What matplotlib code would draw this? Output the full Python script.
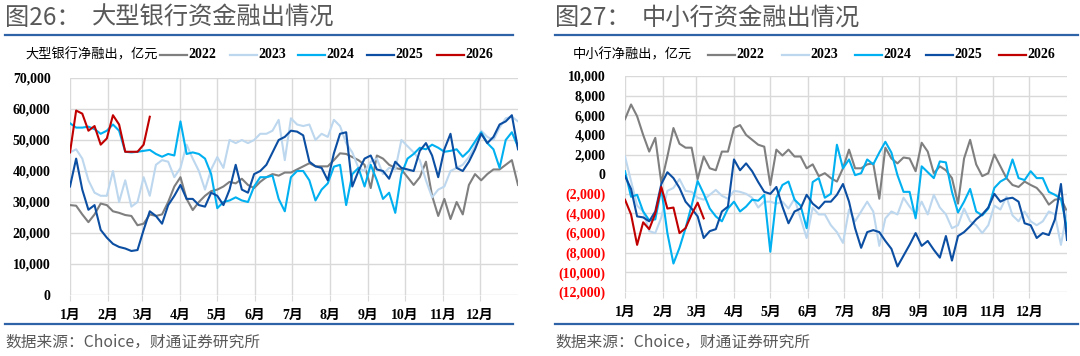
import matplotlib
matplotlib.use("Agg")
import matplotlib.pyplot as plt
from matplotlib.lines import Line2D
import numpy as np
import pandas as pd

W, H = 1080, 356
STEP = 5  # days between samples

YEARS = ["2022", "2023", "2024", "2025", "2026"]
COLORS = ["#7F7F7F", "#BDD7EE", "#00B0F0", "#0B4EA2", "#C00000"]
MONTH_LABELS = [f"{m}月" for m in range(1, 13)]

# 大型银行净融出 (亿元), sampled every 5 days
LARGE_2022 = [29, 28.8, 26, 23.5, 26, 29.5, 29, 27, 26.5, 25.8,
              25.5, 22.5, 23, 26, 25.5, 26, 30, 35, 38, 31,
              27.4, 30, 32, 33.5, 34, 35, 36.5, 36, 37.5, 35.5,
              34.5, 36.5, 38, 39, 38.5, 39.5, 39.5, 40.5, 41.5, 42.5,
              41.5, 41.5, 41.5, 43.5, 45.7, 45.5, 44.5, 43.5, 42, 34.5,
              45, 44, 42, 41, 40.5, 38, 35.5, 38, 43, 32,
              25.5, 31, 24.5, 30, 26, 35.5, 39, 37, 39, 40.5,
              40.5, 42, 43.5, 35.5]
LARGE_2023 = [46, 47, 44, 37, 33, 32, 32, 40, 30, 37,
              28.5, 30, 38, 32, 42, 43.5, 43, 38, 41, 48.5,
              44, 40, 34, 40.5, 44.5, 41, 50, 49, 50, 49,
              50, 52, 52, 53, 56.5, 43.5, 57, 55, 54.5, 55,
              50, 52, 51, 56.5, 54.5, 49, 46, 41, 40, 43,
              44, 39, 41, 40.5, 50, 48, 46, 43.5, 37, 31.5,
              34, 35, 40, 41, 42, 44.5, 48, 53, 51, 50,
              54, 57, 57.5, 56]
LARGE_2024 = [55.4, 54, 54, 54.3, 53.5, 52, 53, 55, 53, 46.2,
              46, 46.2, 46.5, 46.8, 45.5, 44.6, 45.5, 45, 56, 45.5,
              46, 45.5, 44, 39, 28, 30, 30.5, 31.5, 30.5, 30,
              35, 38, 38, 38.5, 31, 27, 38, 40, 40, 37,
              30.5, 34, 36, 41.4, 42, 29, 39, 41, 35, 42,
              37, 31, 33, 26.5, 39, 44, 45.5, 47.5, 47, 48.5,
              47.5, 46.2, 46.5, 47, 44.6, 46.5, 49.5, 52.5, 49, 47,
              41, 50, 52.5, 47.8]
LARGE_2025 = [35, 44, 34, 27.5, 29, 21, 18.5, 16.5, 15.5, 15,
              14.2, 14.5, 21, 27, 25.5, 23, 29, 32, 35.5, 31,
              31, 29, 28.5, 33, 32, 29, 34, 42, 34, 33,
              39, 40, 42, 46, 50, 51, 53, 52.7, 51.5, 43,
              41.5, 41, 37, 45.7, 52, 52.5, 35, 40, 44, 45,
              40.5, 40, 37.5, 43, 41, 40.5, 40, 46.5, 49, 45,
              38, 47, 52, 41, 40, 43, 47, 52, 49, 51,
              55, 56, 58, 47]
LARGE_2026 = [46, 59.5, 58.5, 53, 54.5, 48.5, 50.5, 58, 55, 46.2,
              46.2, 46.2, 48.5, 57.5]

# 中小行净融出 (亿元), sampled every 5 days
SMALL_2022 = [5.6, 7.1, 5.9, 4.0, 2.3, 3.7, -0.9, 1.8, 4.7, 3.1,
              2.7, 2.7, -0.5, 1.8, 0.6, 0.4, 2.3, 2.3, 4.7, 5.0,
              4.0, 3.5, 3.0, 2.8, -1.1, 2.5, 1.9, 2.5, 1.8, 1.8,
              0.6, 1.0, -0.2, 0.1, -0.4, -0.75, 0.6, 2.5, 0.6, 0.6,
              1.0, 1.1, -2.5, 2.7, 1.6, 1.1, 1.7, 1.6, 0.3, 3.2,
              2.3, 0.1, 0.8, 0.4, -0.4, -3.0, 1.6, 3.5, 1.0, -0.2,
              0.1, 2.0, 0.8, -0.4, -1.1, -1.3, -0.75, -1.1, -1.4, -2.1,
              -3.1, -2.6, -2.5, -3.8]
SMALL_2023 = [1.8, -0.7, -3.2, -3.8, -5.8, -6.0, -4.4, -1.7, -1.4, -0.5,
              -1.7, -1.8, -2.4, -2.6, -2.1, -1.6, -2.2, -2.5, -1.7, -1.8,
              -2.0, -2.4, -3.4, -2.8, -2.8, -3.0, -2.8, -3.5, -2.5, -4.5,
              -6.5, -3.4, -4.1, -4.1, -5.2, -5.9, -7.0, -3.6, -4.8, -3.8,
              -2.8, -3.8, -7.3, -4.5, -3.8, -4.1, -2.4, -3.3, -4.1, -2.8,
              -4.1, -2.1, -3.4, -4.1, -5.5, -5.2, -3.5, -4.8, -5.2, -6.0,
              -5.2, -3.2, -3.6, -2.3, -4.2, -4.8, -3.8, -4.8, -5.2, -4.8,
              -3.8, -4.1, -7.2, -3.8]
SMALL_2024 = [0.3, -2.3, -2.1, -3.8, -4.7, -4.6, -1.5, -6.0, -9.1, -7.5,
              -5.5, -3.2, -0.7, -2.0, -3.5, -4.3, -4.8, -3.5, -2.8, -3.8,
              -3.3, -2.6, -2.7, -2.1, -7.9, -2.4, -1.1, -0.75, -2.6, -3.2,
              -5.5, -0.8, -0.4, -2.4, -2.0, 3.0, 0.6, 1.5, -0.1, 0.1,
              1.5, 1.0, 2.2, 3.3, 2.2, -0.1, -1.8, -1.8, -4.5, 0.8,
              0.2, -0.4, 1.3, 1.2, -1.8, -3.9, -2.8, -1.5, -3.8, -4.2,
              -3.5, -1.4, -0.75, -0.4, 1.5, -0.4, -0.6, 0.3, -0.4, -0.4,
              -1.8, -2.1, -2.5, -5.5]
SMALL_2025 = [-0.2, -1.5, -4.3, -4.4, -4.8, -3.8, -1.0, 0.2, -0.4, -1.4,
              -2.8, -3.5, -4.3, -6.5, -5.8, -5.6, -3.8, -3.3, 1.5, 0.4,
              1.1, 0.3, -0.8, -1.8, -2.0, -1.3, -3.3, -5.0, -3.8, -3.5,
              -2.1, -3.0, -3.5, -2.8, -2.8, -2.1, -1.0, -2.8, -5.5, -7.5,
              -5.9, -5.7, -5.9, -6.8, -7.6, -9.4, -8.3, -7.2, -6.0, -7.3,
              -6.8, -7.7, -8.5, -6.3, -8.8, -6.3, -5.9, -5.3, -4.6, -4.1,
              -3.4, -2.0, -2.8, -2.5, -2.4, -2.8, -5.0, -5.2, -6.5, -6.0,
              -6.2, -4.6, -1.0, -6.7]
SMALL_2026 = [-2.6, -4.1, -7.2, -4.9, -5.6, -4.0, -1.3, -3.5, -3.4, -6.0,
              -5.5, -4.1, -2.9, -4.5]

CJK = ["Noto Sans CJK SC", "DejaVu Sans"]
SERIF = ["Liberation Serif", "Noto Sans CJK SC"]
TITLE_GRAY = "#595959"
RULE_BLUE = "#2E63A8"


def px(x, y):
    return x / W, 1 - y / H


def fmt_large(v):
    return f"{int(v):,}"


def fmt_small(v):
    v = int(round(v))
    if v < 0:
        return f"({-v:,})"
    return f"{v:,}"


def draw_panel(fig, rect, series, yticks, fmt, x0, x1, num, title, unit_label, legend_x):
    ax = fig.add_axes(rect)
    month_starts = pd.date_range("2025-01-01", periods=12, freq="MS").dayofyear - 1

    for name, vals, color in zip(YEARS, series, COLORS):
        vals = np.asarray(vals, dtype=float) * 1000
        days = np.arange(len(vals)) * STEP
        ax.plot(days, vals, color=color, lw=1.5, solid_joinstyle="round")

    ax.set_xlim(0, 365)
    ax.set_ylim(yticks[0], yticks[-1])
    ax.set_xticks(month_starts)
    ax.set_xticklabels(MONTH_LABELS, family=SERIF, weight="bold", fontsize=10)
    ax.set_yticks(yticks)
    labels = ax.set_yticklabels([fmt(v) for v in yticks], family=SERIF,
                                weight="bold", fontsize=10)
    for v, lab in zip(yticks, labels):
        lab.set_color("#FF0000" if v < 0 else "black")
    ax.grid(True, color="#D9D9D9", lw=1)
    ax.set_axisbelow(True)
    for s in ax.spines.values():
        s.set_visible(False)
    ax.tick_params(axis="y", length=0, pad=14)
    ax.tick_params(axis="x", length=4, color="#D9D9D9", pad=6)

    # header, rules and source
    fig.text(*px(x0, 18), num, family=CJK, fontsize=17.5, color=TITLE_GRAY,
             va="center", weight="medium")
    fig.text(*px(x0 + 87, 18), title, family=CJK, fontsize=17.5, color=TITLE_GRAY,
             va="center", weight="medium")
    for y in (34.5, 324):
        fig.add_artist(Line2D([x0 / W, x1 / W], [1 - y / H] * 2, color=RULE_BLUE, lw=1.6))
    fig.text(*px(x0, 342), "数据来源：Choice，财通证券研究所", family=CJK,
             fontsize=11.3, color=TITLE_GRAY, va="center")

    # legend row
    fig.text(*px(legend_x[0] - 135, 55), unit_label, family=CJK, fontsize=9.5, va="center")
    for lx, name, color in zip(legend_x, YEARS, COLORS):
        fig.add_artist(Line2D([lx / W, (lx + 27) / W], [1 - 55 / H] * 2, color=color, lw=1.6))
        fig.text(*px(lx + 28, 55), name, family=SERIF, weight="bold", fontsize=10, va="center")
    return ax


fig = plt.figure(figsize=(W / 100, H / 100), dpi=100)

draw_panel(fig, [70 / W, 1 - 295 / H, 448 / W, 217 / H],
           [LARGE_2022, LARGE_2023, LARGE_2024, LARGE_2025, LARGE_2026],
           list(range(0, 70001, 10000)), fmt_large, 5, 513,
           "图26：", "大型银行资金融出情况", "大型银行净融出，亿元",
           [160, 230, 298, 367, 437])

draw_panel(fig, [625 / W, 1 - 292 / H, 442 / W, 216 / H],
           [SMALL_2022, SMALL_2023, SMALL_2024, SMALL_2025, SMALL_2026],
           list(range(-12000, 10001, 2000)), fmt_small, 555, 1078,
           "图27：", "中小行资金融出情况", "中小行净融出，亿元",
           [708, 782, 855, 926, 999])

fig.savefig("out.png", dpi=100)
